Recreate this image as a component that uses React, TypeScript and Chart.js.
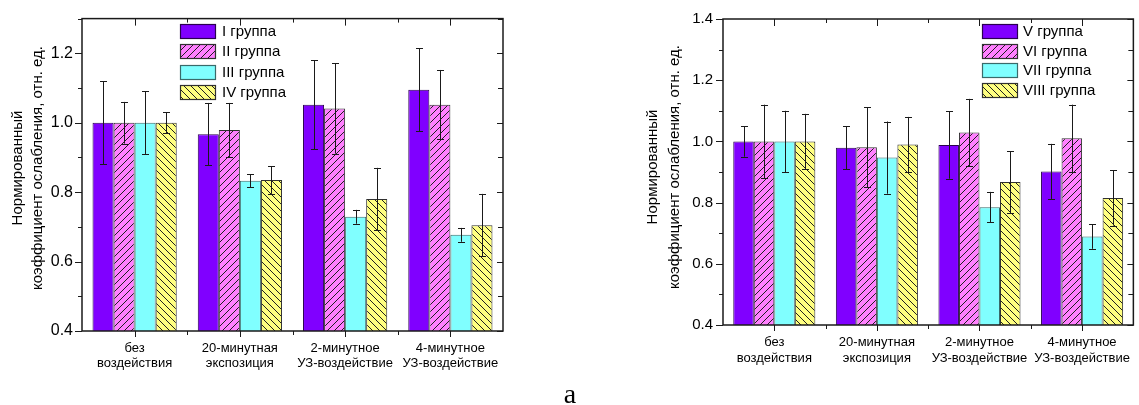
import { useEffect, useRef } from 'react';
import { Chart, registerables } from 'chart.js';

Chart.register(...registerables);

const FONT = "'Liberation Sans', Arial, sans-serif";

// ---------- data ----------
const categories: string[][] = [
  ['без', 'воздействия'],
  ['20-минутная', 'экспозиция'],
  ['2-минутное', 'УЗ-воздействие'],
  ['4-минутное', 'УЗ-воздействие'],
];

const yTitle = ['Нормированный', 'коэффициент ослабления, отн. ед.'];

const leftNames = ['I группа', 'II группа', 'III группа', 'IV группа'];
const rightNames = ['V группа', 'VI группа', 'VII группа', 'VIII группа'];

const group1 = [1.0, 0.967, 1.052, 1.095];
const group1Err = [0.12, 0.09, 0.128, 0.12];
const group2 = [1.0, 0.979, 1.041, 1.052];
const group2Err = [0.06, 0.078, 0.13, 0.1];
const group3 = [1.0, 0.833, 0.729, 0.677];
const group3Err = [0.09, 0.019, 0.02, 0.02];
const group4 = [1.0, 0.835, 0.78, 0.705];
const group4Err = [0.03, 0.04, 0.09, 0.09];

const group5 = [1.0, 0.979, 0.988, 0.902];
const group5Err = [0.05, 0.07, 0.11, 0.09];
const group6 = [1.0, 0.981, 1.029, 1.01];
const group6Err = [0.12, 0.13, 0.11, 0.11];
const group7 = [1.0, 0.947, 0.785, 0.689];
const group7Err = [0.1, 0.118, 0.05, 0.04];
const group8 = [1.0, 0.99, 0.867, 0.815];
const group8Err = [0.09, 0.09, 0.1, 0.09];

const leftY = { min: 0.4, max: 1.3 };
const rightY = { min: 0.4, max: 1.4 };

// ---------- styles ----------
const PURPLE = '#8000FF';
const PINK = '#FF80FF';
const CYAN = '#80FFFF';
const YELLOW = '#FFFF80';
const INK = '#1a1a1a';

function makeHatch(bg: string, dir: 1 | -1): CanvasPattern | string {
  const s = 7;
  const c = document.createElement('canvas');
  c.width = s;
  c.height = s;
  const g = c.getContext('2d');
  if (!g) return bg;
  g.fillStyle = bg;
  g.fillRect(0, 0, s, s);
  g.strokeStyle = '#202020';
  g.lineWidth = 1;
  g.beginPath();
  if (dir === 1) {
    g.moveTo(-1, s + 1); g.lineTo(s + 1, -1);
    g.moveTo(-1, 1); g.lineTo(1, -1);
    g.moveTo(s - 1, s + 1); g.lineTo(s + 1, s - 1);
  } else {
    g.moveTo(-1, -1); g.lineTo(s + 1, s + 1);
    g.moveTo(s - 1, -1); g.lineTo(s + 1, 1);
    g.moveTo(-1, s - 1); g.lineTo(1, s + 1);
  }
  g.stroke();
  return g.createPattern(c, 'repeat') || bg;
}

type Params = {
  width: number;
  height: number;
  area: { left: number; right: number; top: number; bottom: number };
  y: { min: number; max: number };
  names: string[];
  values: number[][];
  errors: number[][];
  titleX: [number, number];
  titleY: number;
  titleFont: number;
  legendX: number;
  legendTop: number;
  legendStep: number;
  legendTextX: number;
  legendFont: number;
  yTickFont: number;
  yTickPad: number;
  xTickFont: number;
  xTickLine: number;
  xTickPad: number;
};

function buildChart(canvas: HTMLCanvasElement, p: Params): Chart {
  const fills = [
    PURPLE,
    makeHatch(PINK, 1),
    CYAN,
    makeHatch(YELLOW, -1),
  ];
  const borders = ['#2a0050', '#303030', '#3a6a6a', '#303030'];

  const decor = {
    id: 'decor',
    afterDatasetsDraw(chart: any) {
      const ctx = chart.ctx as CanvasRenderingContext2D;
      const ys = chart.scales.y;
      ctx.save();
      ctx.strokeStyle = INK;
      ctx.lineWidth = 1;
      chart.data.datasets.forEach((ds: any, di: number) => {
        const meta = chart.getDatasetMeta(di);
        meta.data.forEach((el: any, i: number) => {
          const v = ds.data[i];
          const e = p.errors[di][i];
          const x = Math.round(el.x) + 0.5;
          const yt = ys.getPixelForValue(v + e);
          const yb = ys.getPixelForValue(v - e);
          ctx.beginPath();
          ctx.moveTo(x, yt);
          ctx.lineTo(x, yb);
          ctx.moveTo(x - 3.5, Math.round(yt) + 0.5);
          ctx.lineTo(x + 3.5, Math.round(yt) + 0.5);
          ctx.moveTo(x - 3.5, Math.round(yb) + 0.5);
          ctx.lineTo(x + 3.5, Math.round(yb) + 0.5);
          ctx.stroke();
        });
      });
      ctx.restore();
    },
    afterDraw(chart: any) {
      const ctx = chart.ctx as CanvasRenderingContext2D;
      const a = chart.chartArea;
      const ys = chart.scales.y;
      const xs = chart.scales.x;
      ctx.save();
      ctx.strokeStyle = INK;
      ctx.lineWidth = 1.5;
      ctx.strokeRect(a.left, a.top, a.right - a.left, a.bottom - a.top);

      // y ticks
      ctx.lineWidth = 1;
      ctx.beginPath();
      for (let k = 0; ; k++) {
        const v = p.y.min + k * 0.1;
        if (v > p.y.max + 1e-9) break;
        const major = Math.round(v * 10) % 2 === 0;
        const yy = Math.round(ys.getPixelForValue(v)) + 0.5;
        const L = major ? 7 : 4;
        ctx.moveTo(a.left, yy);
        ctx.lineTo(a.left - L, yy);
        ctx.moveTo(a.right, yy);
        ctx.lineTo(a.right - (major ? 6 : 5), yy);
      }
      // x ticks
      const n = categories.length;
      const w = (a.right - a.left) / n;
      for (let i = 0; i < n; i++) {
        const cx = Math.round(xs.getPixelForValue(i)) + 0.5;
        ctx.moveTo(cx, a.bottom);
        ctx.lineTo(cx, a.bottom + 6);
        ctx.moveTo(cx, a.top);
        ctx.lineTo(cx, a.top + 7);
        if (i > 0) {
          const bx = Math.round(a.left + i * w) + 0.5;
          ctx.moveTo(bx, a.bottom);
          ctx.lineTo(bx, a.bottom + 4);
          ctx.moveTo(bx, a.top);
          ctx.lineTo(bx, a.top + 4);
        }
      }
      ctx.stroke();

      // legend
      ctx.font = `${p.legendFont}px ${FONT}`;
      ctx.textBaseline = 'middle';
      ctx.textAlign = 'left';
      chart.data.datasets.forEach((ds: any, di: number) => {
        const cy = p.legendTop + di * p.legendStep;
        const bx = p.legendX;
        const by = Math.round(cy - 7);
        ctx.fillStyle = ds.backgroundColor;
        ctx.fillRect(bx, by, 35, 14);
        ctx.strokeStyle = ds.borderColor;
        ctx.lineWidth = 1.2;
        ctx.strokeRect(bx + 0.5, by + 0.5, 35, 14);
        ctx.fillStyle = '#000';
        ctx.fillText(ds.label, p.legendTextX, cy + 1);
      });

      // y title
      ctx.font = `${p.titleFont}px ${FONT}`;
      ctx.fillStyle = '#000';
      ctx.textAlign = 'center';
      ctx.textBaseline = 'middle';
      yTitle.forEach((line, li) => {
        ctx.save();
        ctx.translate(p.titleX[li], p.titleY);
        ctx.rotate(-Math.PI / 2);
        ctx.fillText(line, 0, 0);
        ctx.restore();
      });
      ctx.restore();
    },
  };

  return new Chart(canvas, {
    type: 'bar',
    data: {
      labels: categories,
      datasets: p.names.map((name, i) => ({
        label: name,
        data: p.values[i],
        backgroundColor: fills[i] as any,
        borderColor: borders[i],
        borderWidth: 1,
        categoryPercentage: 0.8,
        barPercentage: 1.0,
      })),
    },
    options: {
      responsive: false,
      animation: false,
      events: [],
      layout: {
        padding: {
          left: 0,
          top: p.area.top,
          right: p.width - p.area.right,
          bottom: 0,
        },
      },
      plugins: {
        legend: { display: false },
        tooltip: { enabled: false },
        title: { display: false },
      },
      scales: {
        x: {
          type: 'category',
          offset: true,
          grid: { display: false, drawTicks: false },
          border: { display: false },
          ticks: {
            color: '#000',
            maxRotation: 0,
            autoSkip: false,
            padding: p.xTickPad,
            font: { family: FONT, size: p.xTickFont, lineHeight: `${p.xTickLine}px` } as any,
          },
          afterFit: (s: any) => {
            s.height = p.height - p.area.bottom;
          },
        },
        y: {
          type: 'linear',
          min: p.y.min,
          max: p.y.max,
          grid: { display: false, drawTicks: false },
          border: { display: false },
          ticks: {
            stepSize: 0.2,
            color: '#000',
            padding: p.yTickPad,
            font: { family: FONT, size: p.yTickFont },
            callback: (v: any) => {
              const n = Number(v);
              const r = Math.round(n * 5);
              if (Math.abs(n * 5 - r) > 1e-6) return null;
              return n.toFixed(1);
            },
          },
          afterFit: (s: any) => {
            s.width = p.area.left;
          },
        },
      },
    },
    plugins: [decor],
  });
}

const leftParams: Params = {
  width: 560,
  height: 405,
  area: { left: 82, right: 503, top: 17, bottom: 331 },
  y: leftY,
  names: leftNames,
  values: [group1, group2, group3, group4],
  errors: [group1Err, group2Err, group3Err, group4Err],
  titleX: [18, 38],
  titleY: 168,
  titleFont: 15,
  legendX: 180,
  legendTop: 31,
  legendStep: 20.3,
  legendTextX: 222,
  legendFont: 15,
  yTickFont: 16,
  yTickPad: 9,
  xTickFont: 13,
  xTickLine: 15,
  xTickPad: 10,
};

const rightParams: Params = {
  width: 579,
  height: 405,
  area: { left: 163, right: 578, top: 16, bottom: 325 },
  y: rightY,
  names: rightNames,
  values: [group5, group6, group7, group8],
  errors: [group5Err, group6Err, group7Err, group8Err],
  titleX: [93, 115],
  titleY: 167,
  titleFont: 15,
  legendX: 422,
  legendTop: 31,
  legendStep: 19.6,
  legendTextX: 463,
  legendFont: 15,
  yTickFont: 15,
  yTickPad: 10,
  xTickFont: 13,
  xTickLine: 16,
  xTickPad: 9,
};

function Panel({ left, params }: { left: number; params: Params }) {
  const ref = useRef<HTMLCanvasElement | null>(null);
  useEffect(() => {
    if (!ref.current) return;
    const chart = buildChart(ref.current, params);
    return () => chart.destroy();
  }, [params]);
  return (
    <canvas
      ref={ref}
      width={params.width}
      height={params.height}
      style={{
        position: 'absolute',
        left,
        top: 0,
        width: params.width,
        height: params.height,
        display: 'block',
      }}
    />
  );
}

export default function App() {
  return (
    <div
      style={{
        position: 'absolute',
        left: 0,
        top: 0,
        width: 1139,
        height: 405,
        background: '#fff',
        overflow: 'hidden',
      }}
    >
      <Panel left={0} params={leftParams} />
      <Panel left={560} params={rightParams} />
      <div
        style={{
          position: 'absolute',
          left: 540,
          width: 60,
          top: 380,
          textAlign: 'center',
          fontFamily: "'Liberation Serif', 'Times New Roman', serif",
          fontSize: 28,
          lineHeight: '28px',
          color: '#000',
        }}
      >
        а
      </div>
    </div>
  );
}
